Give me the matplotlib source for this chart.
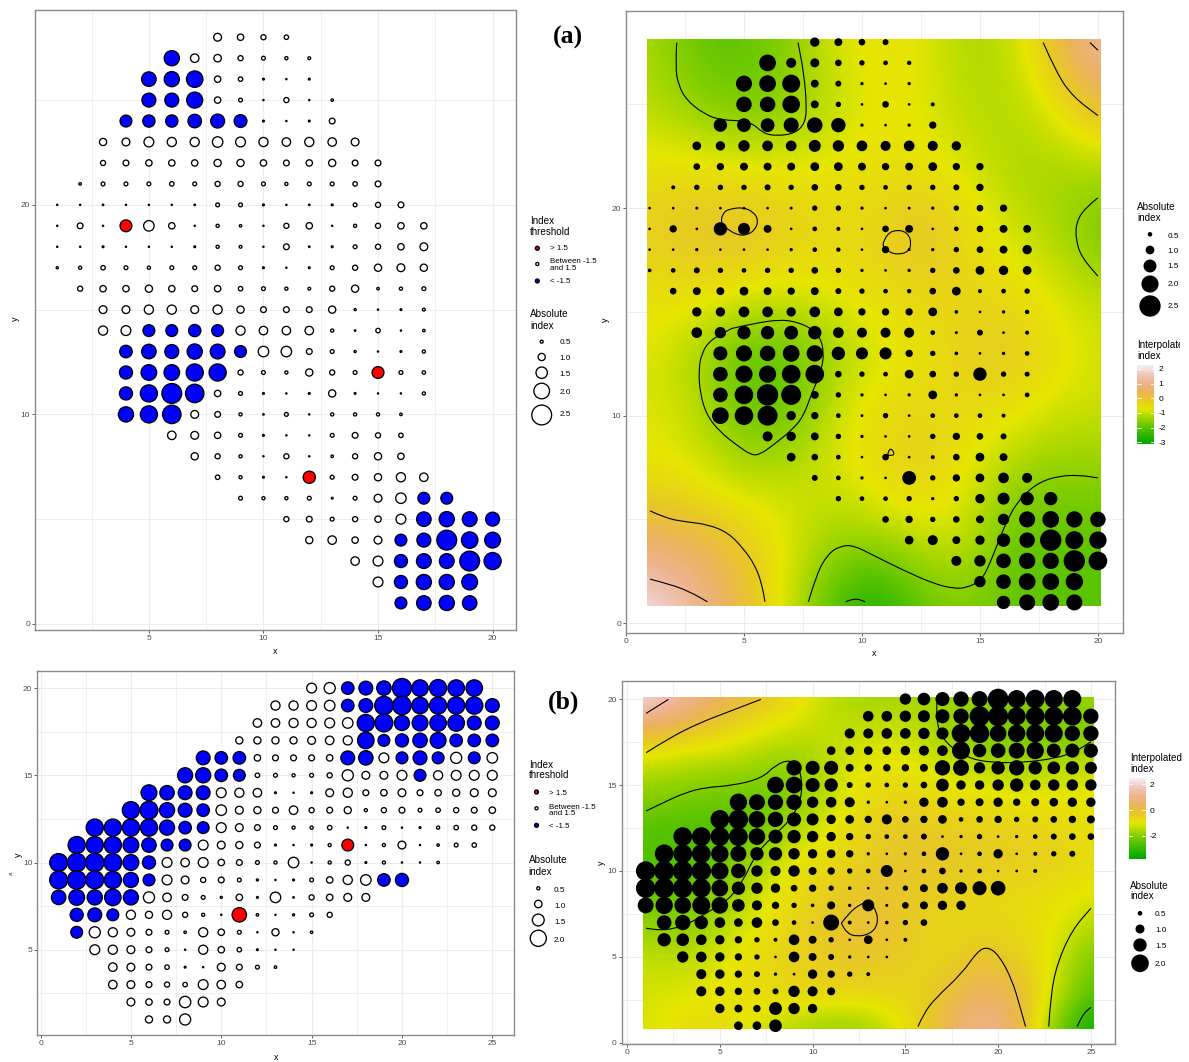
import numpy as np
import matplotlib
matplotlib.use('Agg')
import matplotlib.pyplot as plt
from matplotlib.colors import LinearSegmentedColormap, Normalize
from matplotlib.patches import PathPatch, Rectangle
from matplotlib.path import Path
from matplotlib.transforms import IdentityTransform

plt.rcParams['font.family'] = ['Liberation Sans', 'DejaVu Sans']
plt.rcParams['axes.unicode_minus'] = False

W, H = 1189, 1062

# index values, one list per row of the grid (y, first x, values from that x on)
a_y = [28, 27, 26, 25, 24, 23, 22, 21, 20, 19, 18, 17, 16, 15, 14, 13, 12, 11, 10, 9, 8, 7, 6, 5, 4, 3, 2, 1]
a_x0 = [8, 6, 5, 5, 4, 3, 3, 2, 1, 1, 1, 1, 2, 3, 3, 4, 4, 4, 4, 6, 7, 8, 9, 11, 12, 14, 15, 16]
a_rows = [
    [1.07, .9, .75, .67],
    [-1.95, 1.15, 1.03, .75, .6, .52, .48],
    [-1.87, -1.95, -2.1, .9, .67, .36, .28, .36],
    [-1.8, -1.8, -2.05, .9, .6, .28, .75, .28, .44],
    [-1.55, -1.6, -1.6, -1.75, -1.8, -1.67, .36, .28, .36, .83],
    [1.0, 1.07, 1.31, 1.23, 1.23, 1.39, 1.31, 1.23, 1.15, 1.23, 1.15, 1.07],
    [.75, .83, .9, .9, .9, 1.0, 1.0, .9, .83, .9, 1.0, .83, .83],
    [.44, .6, .6, .6, .67, .6, .75, .75, .6, .52, .6, .6, .67, .83],
    [.24, .24, .32, .24, .24, .24, .32, .6, .6, .36, .24, .32, .36, .6, .75, .83],
    [.24, .83, .28, 1.55, 1.39, .9, .28, .52, .44, .24, .75, .9, .28, .52, .75, .9, .9],
    [.24, .24, .36, .24, .24, .24, .36, .52, .48, .24, .83, .32, .36, .6, .75, .9, 1.07],
    [.4, .52, .67, .6, .52, .6, .6, .75, .6, .36, .24, .36, .6, .75, 1.0, 1.07, 1.0],
    [.75, .9, .9, 1.0, .9, .83, .9, .67, .6, .52, .48, .75, 1.0, .44, .52, .6],
    [1.07, 1.07, 1.23, 1.23, 1.07, 1.23, 1.0, .83, .83, .83, 1.0, .4, .28, .36, .48],
    [1.23, 1.31, -1.55, -1.55, -1.6, -1.55, 1.23, 1.15, 1.15, 1.15, .52, .32, .67, .28, .44],
    [-1.63, -1.87, -1.8, -1.95, -1.9, -1.55, 1.39, 1.39, .83, .6, .4, .24, .36, .52],
    [-1.7, -2.0, -2.0, -2.18, -2.18, .75, .6, .52, 1.0, .75, .6, 1.55, .6, .55],
    [-1.7, -2.18, -2.5, -2.34, .9, .6, .36, .24, .36, 1.0, .36, .24, .24, .52],
    [-1.95, -2.18, -2.34, 1.07, .83, .52, .32, .6, .28, .52, .52, .52, .44],
    [1.15, 1.07, .9, .6, .36, .24, .24, .6, .83, .75, .67],
    [1.0, .75, .52, .28, .75, .24, .44, .75, 1.0, .9],
    [.67, .52, .36, .24, 1.6, .6, .83, 1.0, 1.23, 1.15],
    [.6, .52, .52, .6, .36, .6, 1.07, 1.39, -1.55, -1.55],
    [.75, .83, .6, .75, .9, 1.31, -1.87, -1.95, -1.9, -1.8],
    [1.0, 1.15, .9, 1.07, -1.55, -1.8, -2.5, -2.1, -2.02],
    [1.15, 1.31, -1.7, -1.9, -1.9, -2.5, -2.18],
    [1.31, -1.7, -1.95, -1.95, -2.02],
    [-1.55, -1.87, -1.95, -1.87],
]

b_y = [20, 19, 18, 17, 16, 15, 14, 13, 12, 11, 10, 9, 8, 7, 6, 5, 4, 3, 2, 1]
b_x0 = [15, 13, 12, 11, 9, 8, 6, 5, 3, 2, 1, 1, 1, 2, 2, 3, 4, 4, 5, 6]
b_rows = [
    [1.27, 1.42, -1.58, -1.73, -1.8, -2.35, -2.04, -2.12, -2.04, -2.04],
    [1.19, 1.19, 1.27, 1.35, -1.58, -1.73, -2.27, -2.27, -2.04, -2.12, -2.12, -2.12, -1.73],
    [1.12, 1.12, 1.19, 1.19, 1.27, 1.35, -2.12, -2.2, -1.88, -1.96, -2.04, -2.04, -1.73, -1.73],
    [.96, .96, .96, .96, 1.04, 1.12, 1.19, -2.04, -1.5, -1.65, -1.8, -1.96, -1.58, -1.58, -1.58],
    [-1.73, -1.58, -1.58, .88, .81, .81, .81, .88, -1.73, -1.8, 1.27, -1.5, -1.73, -1.5, 1.42, -1.5, 1.35],
    [-1.88, -1.88, -1.58, -1.5, .65, .58, .5, .58, .73, 1.42, 1.04, 1.04, 1.27, -1.5, 1.19, 1.27, 1.27, 1.27],
    [-1.96, -1.8, -1.73, -1.73, 1.27, 1.19, 1.12, .35, .27, .35, 1.04, 1.19, .81, .88, 1.04, .81, .88, .96, 1.04, 1.04],
    [-2.12, -2.2, -1.88, -1.73, -1.58, 1.35, 1.04, .96, .81, 1.12, .73, .81, .96, .5, .73, .81, .58, .65, .73, .81, .88],
    [-2.12, -2.12, -2.12, -2.12, -1.88, -1.58, -1.5, 1.27, 1.04, .81, .58, .5, .5, .65, .27, .35, .58, .27, .35, .5, .65, .73, .73],
    [-2.12, -2.12, -2.12, -1.96, -1.8, -1.5, -1.5, 1.27, 1.04, .96, .81, .35, .27, .35, .5, 1.5, .27, .5, 1.04, .27, .42, .58, .65],
    [-2.2, -2.27, -2.27, -2.2, -1.96, -1.65, 1.27, 1.12, 1.27, .88, .81, .58, .5, 1.35, .27, .5, .73, .35, .5, .27, .24, .42],
    [-2.2, -2.27, -2.2, -2.12, -1.88, -1.5, 1.27, 1.04, .73, .81, .58, .38, .27, .35, .58, .88, 1.19, 1.35, -1.58, -1.65],
    [-1.8, -1.96, -1.88, -2.04, -1.88, 1.42, 1.12, .81, .58, .38, .88, .35, 1.35, .31, .73, .88, 1.04, 1.04],
    [-1.65, -1.73, -1.5, 1.19, .96, 1.19, .73, .5, .27, 1.8, .42, .24, .38, .58, .73],
    [-1.5, 1.42, 1.19, 1.04, .81, .58, .42, 1.19, .88, .58, .27, .96, .27, .42],
    [1.27, 1.19, 1.04, .81, .58, .24, 1.19, .88, .65, .35, .24, .24],
    [1.12, 1.04, .81, .65, .35, .24, 1.04, .81, .58, .42],
    [1.12, 1.04, .81, .73, .65, 1.27, 1.12, .88],
    [1.04, .88, .81, 1.45, 1.27, 1.04],
    [.96, .96, 1.42],
]

# interpolated index read on a coarse grid, top row first
a_field_x = np.linspace(1, 20, 11)
a_field_y = np.array([28, 25, 22, 19, 16, 13, 10, 7, 4, 1])
a_field = [
    [-1.2, -1.9, -2.0, -1.6, -0.9, -0.6, -0.7, -1.2, -1.1, 0.0, 1.4],
    [-1.1, -1.5, -1.8, -1.6, -1.1, -0.7, -0.7, -1.1, -1.2, -0.7, 0.2],
    [-0.6, -0.6, -0.7, -0.7, -0.7, -0.6, -0.7, -0.8, -1.2, -1.3, -1.2],
    [-0.2, 0.0, 0.1, -0.2, -0.4, -0.4, 0.1, -0.4, -0.9, -1.2, -1.8],
    [-0.55, -0.5, -0.65, -0.75, -0.7, -0.5, -0.4, -0.4, -0.5, -0.8, -1.1],
    [-0.8, -1.2, -2.0, -2.05, -1.4, -0.9, -0.7, -0.3, -0.1, -0.5, -0.85],
    [-0.8, -1.0, -1.8, -1.9, -1.0, -0.5, -0.35, -0.5, -0.6, -0.9, -1.0],
    [-0.6, -0.75, -1.1, -1.0, -0.9, -0.5, -0.25, -0.7, -1.3, -1.6, -1.5],
    [0.5, 0.3, -0.1, -0.7, -1.3, -1.35, -1.0, -0.9, -1.9, -2.0, -2.0],
    [2.2, 1.3, 0.2, -0.8, -2.0, -2.9, -2.0, -1.6, -1.9, -2.0, -2.0],
]
b_field_x = np.linspace(1, 25, 13)
b_field_y = np.linspace(20, 1, 11)
b_field = [
    [2.28, 1.36, .44, -.14, -.72, -1.41, -1.64, -1.64, -1.64, -1.76, -1.87, -1.87, -1.76],
    [.09, -.26, -.6, -1.01, -1.24, -1.41, -1.29, -1.18, -1.76, -2.22, -2.33, -2.33, -2.1],
    [-1.29, -1.52, -1.52, -1.7, -1.99, -1.29, -.95, -.95, -1.18, -1.41, -1.64, -1.52, -1.29],
    [-1.99, -2.1, -2.33, -2.33, -2.1, -1.29, -.72, -.49, -.83, -.83, -.95, -.95, -.95],
    [-2.56, -2.68, -2.56, -2.33, -1.52, -.95, -.49, -.26, -.37, -.49, -.49, -.6, -.83],
    [-2.56, -2.68, -2.33, -1.64, -.83, -.72, -.37, -.26, -.26, -.37, -.37, -.49, -.72],
    [-2.33, -2.33, -1.99, -1.18, -.72, -.37, -.2, -.26, -.49, -.6, -.72, -.83, -1.06],
    [-1.76, -1.99, -1.41, -.95, -.54, -.26, -.02, -.26, -.72, -.6, -.66, -.95, -1.52],
    [-1.29, -1.41, -1.12, -.72, -.49, -.37, -.31, -.43, -.6, -.02, -.37, -1.06, -2.22],
    [-1.18, -1.06, -.95, -.72, -.6, -.54, -.49, -.6, -.26, .44, .21, -1.18, -2.56],
    [-1.12, -.77, -.72, -1.18, -1.52, -1.87, -1.76, -.95, .09, 1.4, .44, -1.99, -3.6],
]

# contour lines
a_contours = [
    [(2.15, 27.98), (2.09, 26.81), (2.22, 25.93), (2.57, 25.2), (3.28, 24.56), (3.98, 24.24), (5.25, 24.2), (5.82, 23.6), (6.38, 23.48), (7.16, 23.6), (7.58, 24.08), (7.66, 24.88), (7.54, 26.49), (7.29, 27.98)],
    [(17.68, 27.98), (18.25, 26.49), (18.95, 25.36), (20.0, 24.46)],
    [(19.66, 27.98), (20.0, 27.61)],
    [(4.05, 19.5), (4.12, 19.82), (4.48, 19.98), (4.97, 20.03), (5.4, 19.82), (5.61, 19.42), (5.47, 18.94), (5.11, 18.7), (4.76, 18.7), (4.34, 18.94), (4.05, 19.26), (4.05, 19.5)],
    [(10.9, 18.3), (11.04, 18.78), (11.54, 18.97), (11.96, 18.78), (12.1, 18.3), (11.96, 17.89), (11.54, 17.77), (11.19, 17.85), (10.9, 18.13), (10.9, 18.3)],
    [(20.0, 20.5), (19.42, 19.98), (19.07, 19.26), (19.07, 18.46), (19.3, 17.65), (20.0, 16.72)],
    [(4.48, 14.2), (5.4, 14.44), (6.52, 14.63), (7.23, 14.52), (7.86, 14.2), (8.22, 13.8), (8.39, 13.07), (8.29, 12.19), (7.87, 11.07), (7.51, 9.94), (7.02, 9.3), (6.24, 8.58), (5.68, 8.13), (5.32, 8.09), (4.69, 8.58), (3.98, 9.22), (3.42, 10.02), (3.14, 11.07), (3.08, 12.19), (3.2, 12.99), (3.56, 13.64), (4.48, 14.2)],
    [(11.09, 8.09), (11.12, 8.33), (11.26, 8.42), (11.4, 8.09), (11.09, 8.09)],
    [(1.02, 5.41), (1.72, 5.04), (2.57, 4.88), (3.49, 4.75), (4.34, 4.35), (4.97, 3.6), (5.47, 2.79), (5.75, 1.91), (5.89, 1.03)],
    [(1.02, 2.12), (1.86, 1.88), (2.71, 1.51), (3.45, 1.03)],
    [(7.73, 1.03), (8.08, 2.39), (8.57, 3.35), (9.07, 3.71), (9.63, 3.76), (10.48, 3.27), (11.75, 2.55), (13.02, 1.91), (13.87, 1.67), (14.44, 1.7), (15.07, 2.07), (15.42, 2.87), (15.78, 3.92), (16.27, 5.28), (16.84, 6.17), (17.54, 6.81), (18.39, 7.1), (19.24, 7.13), (20.0, 7.0)],
    [(9.31, 1.03), (9.7, 1.22), (10.13, 1.03)],
]
b_contours = [
    [(1.03, 19.17), (2.23, 19.98)],
    [(1.03, 16.88), (2.23, 17.71), (3.85, 18.59), (5.47, 19.26), (7.21, 19.98)],
    [(1.03, 13.49), (2.05, 14.03), (3.13, 14.55), (4.21, 14.86), (5.65, 14.96), (7.27, 15.39), (7.99, 16.16), (8.79, 16.49), (9.33, 15.97), (9.46, 14.52), (9.06, 13.35), (8.35, 12.48), (7.45, 11.61), (6.82, 10.74), (6.28, 9.48), (5.47, 8.31), (4.39, 7.64), (3.4, 6.96), (2.41, 6.61), (1.69, 6.57), (1.03, 6.67)],
    [(16.71, 19.98), (16.65, 18.97), (16.89, 17.91), (17.52, 17.13), (18.42, 16.55), (19.68, 16.3), (21.29, 16.3), (23.09, 16.55), (24.17, 16.94), (25.0, 17.52)],
    [(11.55, 6.96), (11.94, 7.54), (12.57, 8.08), (13.06, 8.22), (13.47, 7.64), (13.51, 6.86), (13.11, 6.34), (12.39, 6.18), (11.85, 6.38), (11.55, 6.96)],
    [(15.68, .95), (15.99, 1.72), (16.62, 2.6), (18.06, 4.05), (18.87, 5.31), (19.41, 5.6), (20.04, 5.12), (20.76, 3.66), (21.2, 2.02), (21.48, .95)],
    [(22.73, .95), (22.82, 2.69), (23.18, 4.63), (23.99, 6.57), (25.0, 7.83)],
    [(24.26, .95), (24.53, 1.63), (25.0, 2.07)],
]

legend_a_sizes = [0.5, 1.0, 1.5, 2.0, 2.5]
legend_b_sizes = [0.5, 1.0, 1.5, 2.0]
threshold_labels = ['> 1.5', 'Between -1.5\nand 1.5', '< -1.5']

terrain = LinearSegmentedColormap.from_list('terrain_r', ['#00A600', '#2DB600', '#63C600', '#A0D600', '#E6E600',
                                                          '#E8C727', '#EBB25E', '#EDB48E', '#F0C9C0', '#F2F2F2'])
norm_a = Normalize(-3.12, 2.27)
norm_b = Normalize(-3.78, 2.51)

GRID = '#ededed'
BORDER = '#8a8a8a'
TICKC = '#4d4d4d'
EDGE_OPEN = 0.95
EDGE_BLACK = 1.1


def size_of(v, k=8.4):
    # point area in pt^2 from the index value, diameter in pixels first
    d = np.maximum(k*np.abs(v) - 1.2, 1.2)
    return (d*0.72)**2


def flatten(ys, x0s, rows):
    xs, yy, vs = [], [], []
    for y, x0, row in zip(ys, x0s, rows):
        for i, v in enumerate(row):
            xs.append(x0 + i)
            yy.append(y)
            vs.append(v)
    return np.array(xs), np.array(yy), np.array(vs)


def panel(box, xlim, ylim, xmajor, xminor, ymajor, yminor):
    l, t, r, b = box
    ax = fig.add_axes([l/W, 1 - b/H, (r - l)/W, (b - t)/H])
    ax.set_xlim(xlim)
    ax.set_ylim(ylim)
    ax.set_xticks(xmajor)
    ax.set_xticks(xminor, minor=True)
    ax.set_yticks(ymajor)
    ax.set_yticks(yminor, minor=True)
    ax.grid(True, which='major', color=GRID, lw=0.8)
    ax.grid(True, which='minor', color=GRID, lw=0.6)
    ax.set_axisbelow(True)
    ax.tick_params(which='major', length=2, width=0.6, color='#444444', labelsize=6, labelcolor=TICKC, pad=1.5)
    ax.tick_params(which='minor', length=0)
    for s in ax.spines.values():
        s.set_color(BORDER)
        s.set_linewidth(1.0)
    return ax


def dots_threshold(ax, x, y, v, k):
    colors = np.where(v >= 1.5, 'red', np.where(v <= -1.5, 'blue', 'white'))
    ax.scatter(x, y, s=size_of(v, k), c=list(colors), edgecolors='black', linewidths=EDGE_OPEN, zorder=4, clip_on=False)


def smooth_line(ax, pts):
    verts = [pts[0]]
    codes = [Path.MOVETO]
    for p, q in zip(pts[1:-1], pts[2:]):
        verts += [p, ((p[0] + q[0])/2, (p[1] + q[1])/2)]
        codes += [Path.CURVE3, Path.CURVE3]
    verts.append(pts[-1])
    codes.append(Path.LINETO)
    ax.add_patch(PathPatch(Path(verts, codes), fill=False, ec='black', lw=0.8, zorder=3))


def field_image(ax, field, fx, fy, norm, rect):
    dx = abs(fx[1] - fx[0])/2
    dy = abs(fy[1] - fy[0])/2
    xlim, ylim = ax.get_xlim(), ax.get_ylim()
    im = ax.imshow(field, extent=(fx[0] - dx, fx[-1] + dx, fy[-1] - dy, fy[0] + dy), cmap=terrain, norm=norm,
                   interpolation='bicubic', aspect='auto', zorder=1)
    im.set_clip_path(Rectangle((rect[0], rect[2]), rect[1] - rect[0], rect[3] - rect[2], transform=ax.transData))
    ax.set_xlim(xlim)
    ax.set_ylim(ylim)
    return im


def color_legend(box, im, ticks):
    l, t, r, b = box
    cax = fig.add_axes([l/W, 1 - b/H, (r - l)/W, (b - t)/H])
    cb = fig.colorbar(im, cax=cax)
    cb.outline.set_visible(False)
    cb.set_ticks(ticks)
    cax.tick_params(length=0, labelsize=6, labelcolor='black', pad=3)
    w = cax.get_xlim()
    for tk in ticks:
        cax.plot([w[0], w[0] + 0.2*(w[1] - w[0])], [tk, tk], color='white', lw=0.6)
        cax.plot([w[1] - 0.2*(w[1] - w[0]), w[1]], [tk, tk], color='white', lw=0.6)


fig = plt.figure(figsize=(W/100, H/100), dpi=100)

ax_xa, ay_a, v_a = flatten(a_y, a_x0, a_rows)
ax_xb, ay_b, v_b = flatten(b_y, b_x0, b_rows)

# (a) left
ax1 = panel((35, 10, 515.5, 630), (0.03, 21.0), (-0.29, 29.3), [5, 10, 15, 20], [2.5, 7.5, 12.5, 17.5],
            [0, 10, 20], [5, 15, 25])
dots_threshold(ax1, ax_xa, ay_a, v_a, 8.4)

# (a) right
ax2 = panel((626, 11, 1122.7, 632.7), (0.0, 21.05), (-0.46, 29.5), [0, 5, 10, 15, 20], [2.5, 7.5, 12.5, 17.5],
            [0, 10, 20], [5, 15, 25])
im_a = field_image(ax2, a_field, a_field_x, a_field_y, norm_a, (0.89, 20.13, 0.83, 28.14))
for c in a_contours:
    smooth_line(ax2, c)
ax2.scatter(ax_xa, ay_a, s=size_of(v_a, 8.4), c='black', edgecolors='black', linewidths=EDGE_BLACK, zorder=4, clip_on=False)

# (b) left
ax3 = panel((37.3, 671, 514, 1035), (-0.18, 26.2), (0.11, 20.98), [0, 5, 10, 15, 20, 25], [2.5, 7.5, 12.5, 17.5, 22.5],
            [5, 10, 15, 20], [2.5, 7.5, 12.5, 17.5])
dots_threshold(ax3, ax_xb, ay_b, v_b, 8.67)

# (b) right
ax4 = panel((621.7, 681, 1115, 1044.3), (-0.29, 26.3), (-0.08, 21.05), [0, 5, 10, 15, 20, 25], [2.5, 7.5, 12.5, 17.5, 22.5],
            [0, 5, 10, 15, 20], [2.5, 7.5, 12.5, 17.5])
im_b = field_image(ax4, b_field, b_field_x, b_field_y, norm_b, (0.86, 25.15, 0.83, 20.13))
for c in b_contours:
    smooth_line(ax4, c)
ax4.scatter(ax_xb, ay_b, s=size_of(v_b, 8.67), c='black', edgecolors='black', linewidths=EDGE_BLACK, zorder=4, clip_on=False)

color_legend((1137.3, 365, 1154, 444), im_a, [-3, -2, -1, 0, 1, 2])
color_legend((1129, 777.7, 1145.7, 859), im_b, [-2, 0, 2])

# overlay in pixel coordinates for titles and legends
ov = fig.add_axes([0, 0, 1, 1], zorder=10)
ov.set_xlim(0, W)
ov.set_ylim(H, 0)
ov.axis('off')
ov.patch.set_visible(False)


def lab(x, y, s, size=5.9, **kw):
    return ov.text(x, y, s, fontsize=size, va='center', ha=kw.pop('ha', 'left'), **kw)


# axis names
for x, y, s, rot in [(275, 652, 'x', 0), (15, 319, 'y', 90), (874, 654, 'x', 0), (605, 320, 'y', 90),
                     (276, 1057, 'x', 0), (18, 855, 'y', 90), (601, 863, 'y', 90)]:
    lab(x, y, s, 6.5, ha='center', rotation=rot)
lab(11, 873.5, 'a', 4.5, ha='center', rotation=90, color='#444444')

lab(567.5, 37, '(a)', 18.5, ha='center', family='Liberation Serif', weight='bold')
lab(564, 702, '(b)', 18.5, ha='center', family='Liberation Serif', weight='bold')

# threshold and size legends of the left panels
for tx, ty1, ty2, cx, cys, lx, lys in [(530, 220.7, 231.7, 537.3, [248.3, 264, 281], 550.5, [249, 265, 281.5]),
                                       (528.7, 764.7, 775.3, 536.5, [792, 808.3, 825.3], 548.7, [793.3, 810.5, 826.3])]:
    lab(tx, ty1, 'Index', 7.1)
    lab(tx, ty2, 'threshold', 7.1)
    ov.scatter([cx]*3, cys, s=[8, 5, 8], c=['red', 'white', 'blue'], edgecolors='black', linewidths=EDGE_OPEN)
    for ly, t in zip(lys, threshold_labels):
        lab(lx, ly, t, 5.7, linespacing=0.95)

lab(530, 314, 'Absolute', 7.1)
lab(530, 326, 'index', 7.1)
ov.scatter([541.7]*5, [341.7, 357, 372.7, 391, 415], s=size_of(np.array(legend_a_sizes)), c='white',
           edgecolors='black', linewidths=EDGE_OPEN)
for y, v in zip([342, 358, 374, 392, 415], legend_a_sizes):
    lab(559.3, y, f'{v:.1f}')

lab(528.7, 860, 'Absolute', 7.1)
lab(528.7, 872, 'index', 7.1)
ov.scatter([538.3]*4, [888.3, 904, 920, 938.3], s=size_of(np.array(legend_b_sizes), 8.67), c='white',
           edgecolors='black', linewidths=EDGE_OPEN)
for y, v in zip([890.3, 906.3, 922.3, 940], legend_b_sizes):
    lab(554, y, f'{v:.1f}')

# legends of the right panels
lab(1137.3, 207.3, 'Absolute', 7.1)
lab(1137.3, 218.3, 'index', 7.1)
ov.scatter([1150]*5, [234.3, 250, 266, 284, 306], s=size_of(np.array(legend_a_sizes)), c='black',
           edgecolors='black', linewidths=EDGE_BLACK)
for y, v in zip([236, 251.3, 267, 285, 306.7], legend_a_sizes):
    lab(1167.7, y, f'{v:.1f}')
t = lab(1137.3, 345.3, 'Interpolated', 7.1, clip_on=True)
t.set_clip_path(Rectangle((0, 0), 1180, H, transform=IdentityTransform()))
lab(1137.3, 355.7, 'index', 7.1)

lab(1130, 758.3, 'Interpolated', 7.1)
lab(1130, 769.3, 'index', 7.1)
lab(1130, 885.7, 'Absolute', 7.1)
lab(1130, 895.8, 'index', 7.1)
ov.scatter([1140]*4, [913.3, 929, 945, 963.3], s=size_of(np.array(legend_b_sizes), 8.67), c='black',
           edgecolors='black', linewidths=EDGE_BLACK)
for y, v in zip([914.3, 930.3, 946.3, 965], legend_b_sizes):
    lab(1155, y, f'{v:.1f}')

fig.savefig('out.png', dpi=100)
